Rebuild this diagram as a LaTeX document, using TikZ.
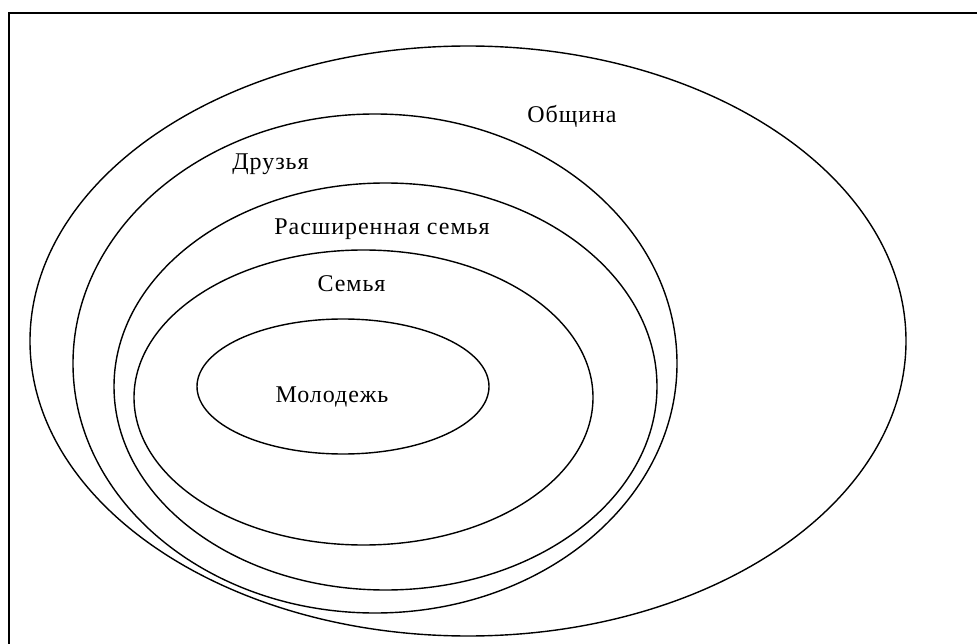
\documentclass[tikz,border=0pt]{standalone}
\usepackage{fontspec}
\setmainfont{Liberation Serif}
\newfontfamily\lblfont[LetterSpace=4]{Liberation Serif}
\usetikzlibrary{shapes.geometric}
\tikzset{
  ring/.style={draw, ellipse, line width=1.4pt, inner sep=0pt, outer sep=0pt},
  lbl/.style={anchor=base, inner sep=0pt, font=\lblfont\fontsize{24}{28}\selectfont},
  frameline/.style={line width=2pt}
}
\begin{document}
\begin{tikzpicture}[x=1pt, y=-1pt]
\useasboundingbox (0,0) rectangle (977,644);
\coordinate (fbl) at (9,644);
\coordinate (ftl) at (9,13);
\coordinate (ftr) at (977,13);
\draw[frameline] (fbl) -- (ftl) -- (ftr);
\node[ring, minimum width=876pt, minimum height=590pt] (obshchina) at (468,341) {};
\node[ring, minimum width=604pt, minimum height=499pt] (druzya) at (375,363.5) {};
\node[ring, minimum width=543pt, minimum height=407pt] (rassem) at (385.5,386.5) {};
\node[ring, minimum width=459pt, minimum height=295pt] (semya) at (363.5,397.5) {};
\node[ring, minimum width=292pt, minimum height=135pt] (molod) at (343,386.5) {};
\node[lbl] (tobsh) at (572,123) {Община};
\node[lbl] (tdruz) at (270.5,170) {Друзья};
\node[lbl] (trass) at (382,235) {Расширенная семья};
\node[lbl] (tsem) at (351.5,291) {Семья};
\node[lbl] (tmol) at (332,402) {Молодежь};
\end{tikzpicture}
\end{document}
